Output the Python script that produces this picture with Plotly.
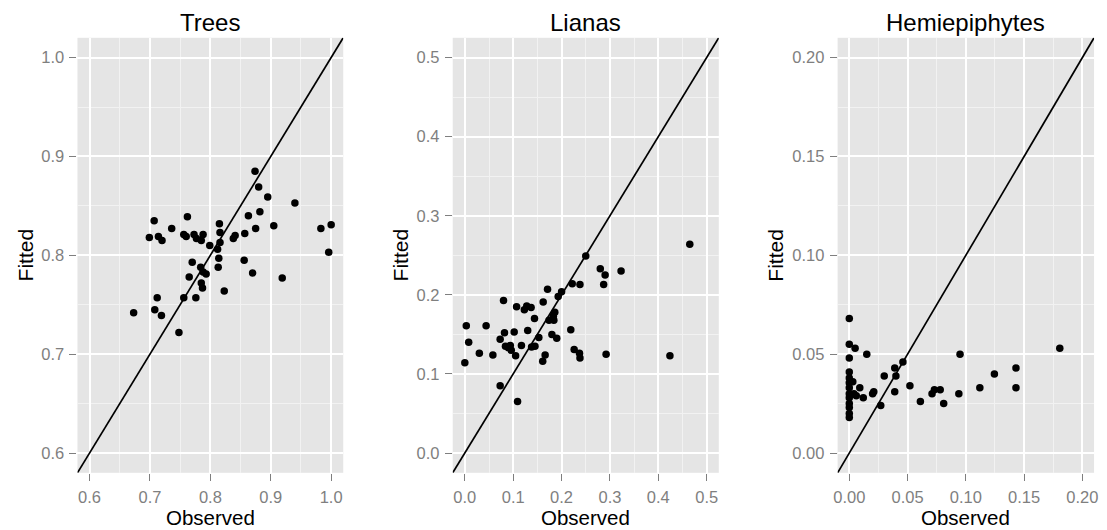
import plotly.graph_objects as go

# ---- data -------------------------------------------------------------
trees_obs = [0.673, 0.699, 0.707, 0.708, 0.712, 0.714, 0.719, 0.720, 0.736, 0.748,
             0.756, 0.756, 0.760, 0.762, 0.765, 0.770, 0.773, 0.776, 0.777, 0.784,
             0.785, 0.785, 0.787, 0.788, 0.788, 0.793, 0.799, 0.812, 0.813, 0.814,
             0.815, 0.816, 0.816, 0.823, 0.838, 0.841, 0.856, 0.857, 0.863, 0.870,
             0.874, 0.875, 0.880, 0.882, 0.895, 0.905, 0.919, 0.940, 0.983, 0.996, 1.000]
trees_fit = [0.742, 0.818, 0.835, 0.745, 0.757, 0.819, 0.739, 0.815, 0.827, 0.722,
             0.757, 0.821, 0.819, 0.839, 0.778, 0.793, 0.821, 0.757, 0.817, 0.788,
             0.815, 0.772, 0.767, 0.821, 0.783, 0.781, 0.810, 0.806, 0.788, 0.797,
             0.832, 0.823, 0.813, 0.764, 0.817, 0.820, 0.795, 0.822, 0.840, 0.782,
             0.885, 0.827, 0.869, 0.844, 0.859, 0.830, 0.777, 0.853, 0.827, 0.803, 0.831]

lianas_obs = [0.250, 0.280, 0.290, 0.287, 0.323, 0.222, 0.238, 0.171, 0.193, 0.200,
              0.080, 0.162, 0.107, 0.123, 0.128, 0.137, 0.144, 0.186, 0.183, 0.174,
              0.184, 0.003, 0.044, 0.219, 0.082, 0.102, 0.130, 0.073, 0.153, 0.180,
              0.190, 0.008, 0.084, 0.094, 0.090, 0.096, 0.105, 0.117, 0.138, 0.145,
              0.030, 0.058, 0.166, 0.161, 0.226, 0.237, 0.238, 0.292, 0.000, 0.073,
              0.109, 0.465, 0.424]
lianas_fit = [0.249, 0.233, 0.225, 0.213, 0.230, 0.214, 0.213, 0.207, 0.198, 0.204,
              0.193, 0.191, 0.185, 0.181, 0.186, 0.184, 0.170, 0.178, 0.173, 0.168,
              0.168, 0.161, 0.161, 0.156, 0.152, 0.153, 0.155, 0.144, 0.146, 0.150,
              0.145, 0.140, 0.135, 0.136, 0.133, 0.130, 0.123, 0.136, 0.134, 0.135,
              0.126, 0.124, 0.124, 0.116, 0.131, 0.126, 0.120, 0.125, 0.114, 0.085,
              0.065, 0.264, 0.123]

hemi_obs = [0, 0, 0, 0, 0, 0, 0, 0, 0, 0, 0, 0, 0,
            0.003, 0.004, 0.006, 0.005, 0.009, 0.012, 0.015, 0.020, 0.021, 0.027,
            0.030, 0.039, 0.040, 0.039, 0.046, 0.052, 0.061, 0.071, 0.073, 0.078,
            0.081, 0.094, 0.095, 0.112, 0.1245, 0.143, 0.143, 0.1806]
hemi_fit = [0.068, 0.055, 0.048, 0.041, 0.038, 0.0355, 0.033, 0.030, 0.028, 0.025,
            0.023, 0.020, 0.018,
            0.036, 0.030, 0.029, 0.053, 0.033, 0.028, 0.050, 0.030, 0.031, 0.024,
            0.039, 0.043, 0.039, 0.031, 0.046, 0.034, 0.026, 0.030, 0.032, 0.032,
            0.025, 0.030, 0.050, 0.033, 0.040, 0.043, 0.033, 0.053]

panel_titles = ["Trees", "Lianas", "Hemiepiphytes"]
trees_ticks = [0.6, 0.7, 0.8, 0.9, 1.0]
lianas_ticks = [0.0, 0.1, 0.2, 0.3, 0.4, 0.5]
hemi_ticks = [0.00, 0.05, 0.10, 0.15, 0.20]

# ---- layout helpers ----------------------------------------------------
W, H = 1107, 530
FONT = "Liberation Sans, Arial, Helvetica, sans-serif"
GREY_TXT = "#7F7F7F"

def px_x(p):
    return p / W

def px_y(p):
    return 1 - p / H

def minor_vals(ticks, rng):
    step = ticks[1] - ticks[0]
    cands = [ticks[0] - step / 2] + [t + step / 2 for t in ticks]
    return [c for c in cands if rng[0] <= c <= rng[1]]

panels = [
    dict(title=panel_titles[0], obs=trees_obs, fit=trees_fit, ticks=trees_ticks,
         rng=[0.58, 1.02], fmt=".1f", left=74.0, right=341.7, ylab_x=21.3),
    dict(title=panel_titles[1], obs=lianas_obs, fit=lianas_fit, ticks=lianas_ticks,
         rng=[-0.025, 0.525], fmt=".1f", left=452.0, right=720.0, ylab_x=399.0),
    dict(title=panel_titles[2], obs=hemi_obs, fit=hemi_fit, ticks=hemi_ticks,
         rng=[-0.01, 0.21], fmt=".2f", left=839.7, right=1098.0, ylab_x=777.0),
]

TOP, BOTTOM = 37.8, 472.8

fig = go.Figure()
annotations = []
layout_axes = {}

for i, p in enumerate(panels, start=1):
    sx = "" if i == 1 else str(i)
    xa, ya = "x" + sx, "y" + sx

    # points
    fig.add_trace(go.Scatter(
        x=p["obs"], y=p["fit"], mode="markers", xaxis=xa, yaxis=ya,
        marker=dict(color="black", size=7.5, line=dict(width=0)),
        hoverinfo="x+y"))
    # 1:1 reference line across the panel
    fig.add_trace(go.Scatter(
        x=p["rng"], y=p["rng"], mode="lines", xaxis=xa, yaxis=ya,
        line=dict(color="black", width=1.7), hoverinfo="skip"))

    common = dict(
        range=p["rng"], tickmode="array", tickvals=p["ticks"], tickformat=p["fmt"],
        showgrid=True, gridcolor="white", gridwidth=1.6,
        zeroline=False, showline=False,
        ticks="outside", ticklen=7, tickwidth=1.2, tickcolor=GREY_TXT,
        tickfont=dict(family=FONT, size=16.5, color=GREY_TXT),
        ticklabelstandoff=2,
        minor=dict(tickmode="array", tickvals=minor_vals(p["ticks"], p["rng"]),
                   showgrid=True, gridcolor="#F2F2F2", gridwidth=0.8, ticks=""),
        fixedrange=True,
    )
    layout_axes["xaxis" + sx] = dict(
        common, domain=[px_x(p["left"]), px_x(p["right"])], anchor=ya)
    layout_axes["yaxis" + sx] = dict(
        common, domain=[px_y(BOTTOM), px_y(TOP)], anchor=xa)

    cx = (p["left"] + p["right"]) / 2
    annotations.append(dict(
        text=p["title"], x=px_x(cx), y=px_y(22.5), xref="paper", yref="paper",
        xanchor="center", yanchor="middle", showarrow=False,
        font=dict(family=FONT, size=24, color="black")))
    annotations.append(dict(
        text="Observed", x=px_x(cx), y=px_y(517.5), xref="paper", yref="paper",
        xanchor="center", yanchor="middle", showarrow=False,
        font=dict(family=FONT, size=20.5, color="black")))
    annotations.append(dict(
        text="Fitted", x=px_x(p["ylab_x"]), y=px_y((TOP + BOTTOM) / 2),
        xref="paper", yref="paper", xanchor="center", yanchor="middle",
        textangle=-90, showarrow=False,
        font=dict(family=FONT, size=21, color="black")))

fig.update_layout(
    width=W, height=H,
    margin=dict(l=0, r=0, t=0, b=0),
    paper_bgcolor="white", plot_bgcolor="#E5E5E5",
    showlegend=False,
    annotations=annotations,
    **layout_axes,
)

fig.write_html("out.html")
